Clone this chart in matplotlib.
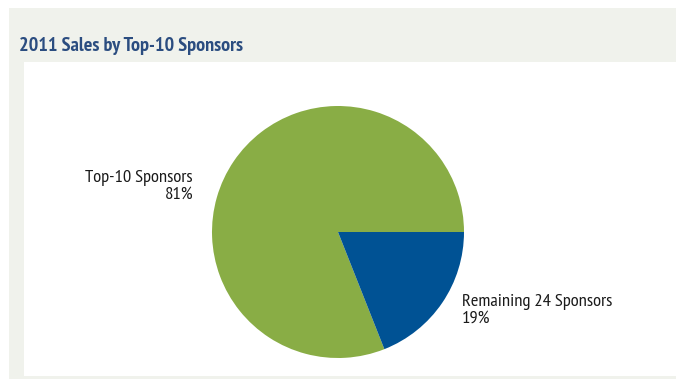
import matplotlib
matplotlib.use('Agg')
import matplotlib.pyplot as plt
from matplotlib.patches import Rectangle

# sales share by sponsor group
categories = ['Top-10 Sponsors', 'Remaining 24 Sponsors']
shares = [81, 19]
colors = ['#89ad45', '#005294']
title = '2011 Sales by Top-10 Sponsors'

plt.rcParams['font.family'] = ['PT Sans Narrow', 'DejaVu Sans']

W, H = 676, 379
fig = plt.figure(figsize=(W / 100, H / 100), dpi=100)
fig.patch.set_facecolor('white')

def px_rect(x0, y0, x1, y1, color):
    # rectangle given in pixel coords (origin top-left)
    fig.patches.append(Rectangle((x0 / W, 1 - y1 / H), (x1 - x0) / W, (y1 - y0) / H,
                                 transform=fig.transFigure, facecolor=color,
                                 edgecolor='none', zorder=-10))

px_rect(9, 8, W, H, '#f0f2ec')
px_rect(24, 62, W, 376, 'white')

fig.text(19 / W, 1 - 51 / H, title, color='#2b4d80', fontsize=14.5,
         fontweight='bold', va='baseline', ha='left')

cx, cy, r = 338, 232, 126
ax = fig.add_axes([(cx - r) / W, 1 - (cy + r) / H, 2 * r / W, 2 * r / H])
ax.pie(shares, colors=colors, startangle=0, counterclock=True,
       wedgeprops=dict(linewidth=0))
ax.set_xlim(-1, 1)
ax.set_ylim(-1, 1)
ax.set_aspect('equal')
ax.axis('off')

ax.text(-1.15, 0.36, f'{categories[0]}\n{shares[0]}%', ha='right', va='center',
        multialignment='right', fontsize=13.3, color='#1a1a1a', linespacing=1.05)
ax.text(0.985, -0.62, f'{categories[1]}\n{shares[1]}%', ha='left', va='center',
        multialignment='left', fontsize=13.3, color='#1a1a1a', linespacing=1.05)

fig.savefig('out.png', dpi=100)
